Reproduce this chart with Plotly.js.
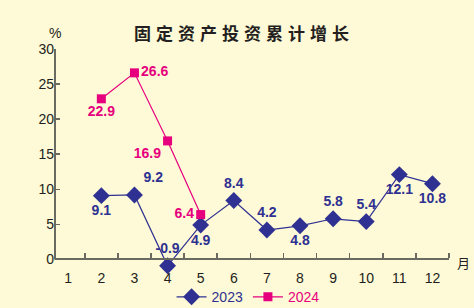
<!DOCTYPE html>
<html><head><meta charset="utf-8">
<script src="https://cdn.plot.ly/plotly-3.0.1.min.js"></script>
<style>body{margin:0;background:#FEF9D6}.gtitle{letter-spacing:5px}</style>
</head><body><div id="c" style="width:474px;height:308px"></div>
<script>
const months = [1,2,3,4,5,6,7,8,9,10,11,12];
const monthLabels = ['1','2','3','4','5','6','7','8','9','10','11','12'];
const x2023 = [2,3,4,5,6,7,8,9,10,11,12];
const v2023 = [9.1,9.2,-0.9,4.9,8.4,4.2,4.8,5.8,5.4,12.1,10.8];
const x2024 = [2,3,4,5];
const v2024 = [22.9,26.6,16.9,6.4];
const seriesNames = ['2023','2024'];
const yTicks = [0,5,10,15,20,25,30];
const col23 = '#2E3192', col24 = '#E6007E', axisCol = '#6B6A60';
const pos23 = ['bottom center','top right','top center','bottom center','top center','top center','bottom center','top center','top center','bottom center','bottom center'];
const pos24 = ['bottom center','middle right','bottom left','middle left'];
const fmt = v => v.toFixed(1);
const yMin = -1.5, yMax = 30;
const traces = [
 {x:x2023,y:v2023,type:'scatter',mode:'lines+markers+text',name:'<span style="color:'+col23+'">'+seriesNames[0]+'</span>',
  line:{color:col23,width:1.2},marker:{symbol:'diamond',size:13,color:col23},
  text:v2023.map(fmt),textposition:pos23,textfont:{family:'Liberation Sans, Arial',size:14,color:col23,weight:'bold'},cliponaxis:false},
 {x:x2024,y:v2024,type:'scatter',mode:'lines+markers+text',name:'<span style="color:'+col24+'">'+seriesNames[1]+'</span>',
  line:{color:col24,width:1.2},marker:{symbol:'square',size:9,color:col24},
  text:v2024.map(fmt),textposition:pos24,textfont:{family:'Liberation Sans, Arial',size:14,color:col24,weight:'bold'},cliponaxis:false}
];
const minorVals = months.map(m=>m+0.5);
const layout = {
 width:474,height:308,paper_bgcolor:'#FEF9D6',plot_bgcolor:'#FEF9D6',
 margin:{l:55,r:25,t:49,b:38},
 font:{family:'Liberation Sans, Arial',size:14,color:'#231F20'},
 title:{text:'固定资产投资累计增长',x:0.515,xanchor:'center',y:0.89,yanchor:'middle',font:{family:'Noto Sans CJK SC',size:17,color:'#231F20',weight:'bold'}},
 xaxis:{range:[0.6,12.5],tickmode:'array',tickvals:months,ticktext:monthLabels,ticks:'',showgrid:false,zeroline:false,
  anchor:'free',position:(0-yMin)/(yMax-yMin),ticklabelstandoff:6,
  showline:true,linecolor:axisCol,linewidth:2,
  minor:{tickmode:'array',tickvals:minorVals,ticks:'inside',ticklen:5,tickcolor:axisCol,tickwidth:1.5,showgrid:false}},
 yaxis:{range:[yMin,yMax],tickmode:'array',tickvals:yTicks,ticks:'inside',ticklen:5,tickcolor:axisCol,tickwidth:1.5,
  showgrid:false,zeroline:false,showline:false},
 shapes:[{type:'line',xref:'paper',yref:'y',x0:0,x1:0,y0:0,y1:yMax,line:{color:axisCol,width:2},layer:'below'}],
 showlegend:true,
 legend:{orientation:'h',x:0.49,xanchor:'center',yref:'container',y:0.035,yanchor:'middle',bgcolor:'rgba(0,0,0,0)',font:{size:14},itemwidth:30},
 annotations:[
  {text:'%',xref:'paper',yref:'y',x:0,y:yMax,xanchor:'center',yanchor:'bottom',yshift:6,showarrow:false,font:{size:14}},
  {text:'月',xref:'paper',yref:'y',x:1,y:0,xanchor:'left',yanchor:'middle',xshift:6,yshift:-3,showarrow:false,font:{family:'Noto Sans CJK SC',size:13}}
 ]
};
Plotly.newPlot('c',traces,layout,{displayModeBar:false,staticPlot:true});
</script></body></html>
